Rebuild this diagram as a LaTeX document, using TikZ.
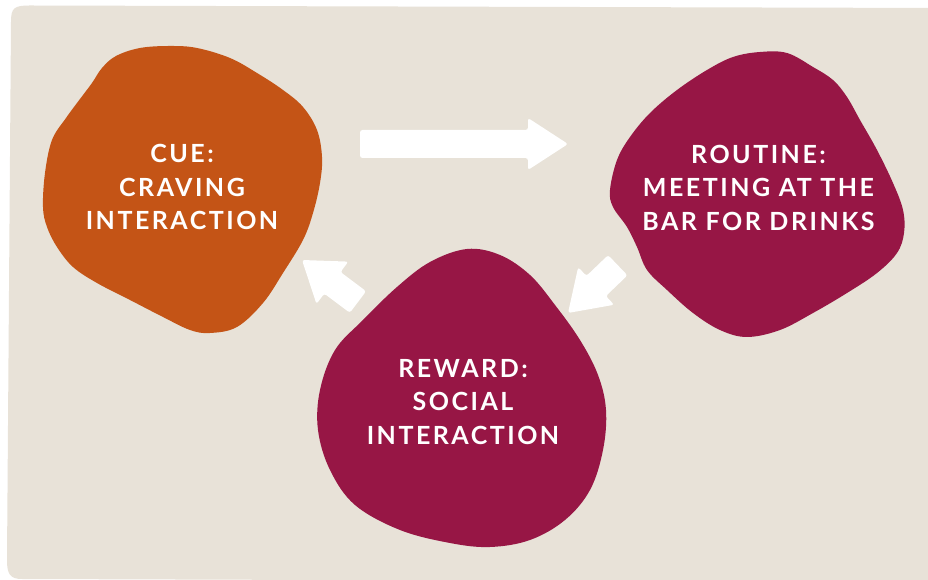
\documentclass[tikz,border=0pt]{standalone}
\usepackage{fontspec}
\newfontfamily\labelfont{Lato}[LetterSpace=10]
\definecolor{bgbeige}{RGB}{232,226,216}
\definecolor{cueorange}{RGB}{196,84,22}
\definecolor{wine}{RGB}{151,22,69}
\tikzset{
  blobtext/.style={text=white, align=center, inner sep=0pt,
    font=\labelfont\bfseries\fontsize{25}{33.5}\selectfont},
  arrowfill/.style={fill=white, rounded corners=2.5pt}
}
\begin{document}
\begin{tikzpicture}[x=1pt,y=1pt]
\useasboundingbox (0,0) rectangle (928,580);
\fill[white] (0,0) rectangle (928,580);
% background panel
\fill[bgbeige] (940,572) -- (30,574.5) .. controls (14,574.5) and (11,572) .. (11,558)
  -- (7,20) .. controls (7,6) and (10,1) .. (22,1) -- (940,-2) -- cycle;
% cue blob (pixel coords converted: Y = 580 - y)
\fill[cueorange] plot[smooth cycle, tension=0.6] coordinates {
(52,440) (45,407) (43,373) (47,353) (57,333) (73,313) (97,297) (130,280)
(163,263) (190,250) (210,247) (237,253) (263,277) (283,307) (303,340)
(313,367) (320,397) (322,423) (317,450) (303,473) (283,490) (257,507)
(230,522) (197,532) (170,534) (140,532) (116,524) (102,512) (92,497)
(80,481) (66,462)};
% routine blob
\fill[wine] plot[smooth cycle, tension=0.6] coordinates {
(760,528) (787,527) (813,513) (833,500) (847,483) (860,460) (877,430)
(893,397) (903,370) (904,347) (897,327) (877,307) (847,287) (813,267)
(780,250) (747,243) (720,250) (693,267) (667,290) (647,310) (637,333)
(627,353) (613,373) (610,390) (617,420) (630,443) (650,467) (677,490)
(707,510) (733,523)};
% reward blob
\fill[wine] plot[smooth cycle, tension=0.6] coordinates {
(467,331) (500,325) (530,305) (555,275) (580,240) (598,205) (606,170)
(603,130) (590,90) (565,60) (530,40) (490,33) (450,37) (400,50)
(355,75) (330,110) (318,150) (320,190) (335,230) (363,260) (397,293)
(430,318)};
% text nodes
\node[blobtext] (cue) at (182,393) {CUE:\\CRAVING\\INTERACTION};
\node[blobtext] (routine) at (758.5,392.5) {ROUTINE:\\MEETING AT THE\\BAR FOR DRINKS};
\node[blobtext] (reward) at (463,178) {REWARD:\\SOCIAL\\INTERACTION};
% arrow anchor points
\coordinate (tipA) at (568,436);
\coordinate (tipB) at (568,267);
\coordinate (tipC) at (302,320);
% cue -> routine
\begin{scope}[shift={(tipA)}, rotate=0]
\fill[arrowfill] (0,0) -- (-40,26) -- (-40,14) -- (-208,14) -- (-208,-14)
  -- (-40,-14) -- (-40,-26) -- cycle;
\end{scope}
% routine -> reward
\begin{scope}[shift={(tipB)}, rotate=223.8]
\fill[arrowfill] (0,0) -- (-39,26) -- (-39,14) -- (-69,14) -- (-69,-14)
  -- (-39,-14) -- (-39,-26) -- cycle;
\end{scope}
% reward -> cue
\begin{scope}[shift={(tipC)}, rotate=143.1]
\fill[arrowfill] (0,0) -- (-38,26.5) -- (-38,13.5) -- (-70,13.5) -- (-70,-13.5)
  -- (-38,-13.5) -- (-38,-26.5) -- cycle;
\end{scope}
\end{tikzpicture}
\end{document}
